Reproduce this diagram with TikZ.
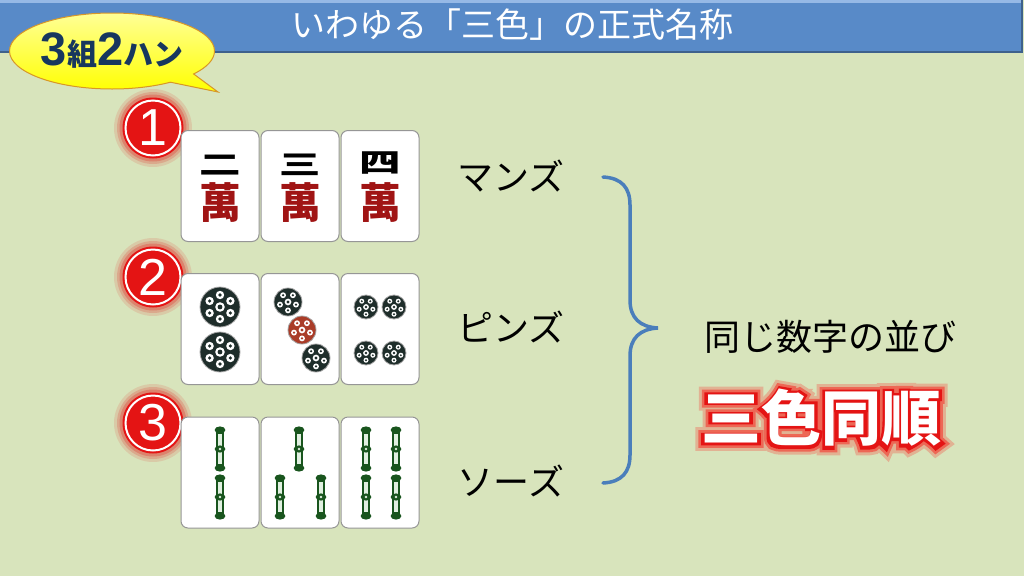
\documentclass[tikz,border=0pt]{standalone}
\usepackage{fontspec}
\usetikzlibrary{shapes.callouts,shapes.geometric,calc}
\newfontfamily\jp{Noto Sans CJK JP}
\newfontfamily\lsf{Liberation Sans}
\newfontfamily\sgA[FakeBold=32]{Noto Sans CJK JP}
\newfontfamily\sgB[FakeBold=22]{Noto Sans CJK JP}
\newfontfamily\sgC[FakeBold=13]{Noto Sans CJK JP}
\definecolor{bg}{RGB}{216,228,188}
\definecolor{bar}{RGB}{88,138,200}
\definecolor{barlt}{RGB}{150,185,230}
\definecolor{navy}{RGB}{23,55,94}
\definecolor{bracec}{RGB}{74,126,187}
\definecolor{manred}{RGB}{160,20,20}
\definecolor{pindark}{RGB}{30,45,42}
\definecolor{pinred}{RGB}{170,60,40}
\definecolor{sou}{RGB}{25,85,30}
\definecolor{soulight}{RGB}{225,240,225}
\definecolor{numred}{RGB}{228,20,20}
\definecolor{calloutline}{RGB}{215,150,40}
\definecolor{tileedge}{RGB}{150,150,150}
\newcommand\pinc[5]{%
  \begin{scope}[shift={(#1,#2)},scale=#3]
    \fill[#4] (0,0) circle (1);
    \draw[gray!70, line width=0.8pt] (0,0) circle (1);
    \foreach \q in {1,...,#5}{
      \fill[white] ({90+360/#5*\q}:0.6) circle (0.21);
      \fill[#4] ({90+360/#5*\q}:0.6) circle (0.09);
    }
    \fill[white] (0,0) circle (0.24);
    \fill[#4] (0,0) circle (0.12);
  \end{scope}}
\newcommand\bam[2]{%
  \begin{scope}[shift={(#1,#2)}]
    \draw[sou, line width=8pt] (0,2) -- (0,36);
    \draw[soulight, line width=3.2pt] (0,4) -- (0,16) (0,22) -- (0,34);
    \foreach \yy in {0,19,38} \fill[sou] (0,\yy) ellipse (5.4 and 3.6);
    \fill[soulight] (0,19) circle (1.4);
  \end{scope}}
\newcommand\sgtext{三色同順}
\begin{document}
\begin{tikzpicture}[x=1pt,y=-1pt,
  tile/.style={rectangle, draw=tileedge, fill=white, rounded corners=7pt, line width=1pt,
    minimum width=78pt, minimum height=111pt, inner sep=0pt},
  mantop/.style={font=\jp\bfseries\fontsize{36}{38}\selectfont, text=black, inner sep=0pt},
  manbot/.style={font=\jp\bfseries\fontsize{42}{44}\selectfont, text=manred, inner sep=0pt},
  numc/.style={circle, fill=numred, minimum size=61pt, inner sep=0pt, text=white,
    font=\lsf\fontsize{52}{52}\selectfont},
  lab/.style={font=\jp\fontsize{36}{40}\selectfont, text=black, inner sep=0pt},
  sgfont/.style={font=\fontsize{60}{64}\selectfont, inner sep=0pt}]
\useasboundingbox (0,0) rectangle (1024,576);
\fill[bg] (0,0) rectangle (1024,576);
% header
\fill[bar] (0,0) rectangle (1022,52);
\fill[barlt] (0,0) rectangle (1022,3);
\draw[bar!70!black, line width=1.5pt] (0,52) -- (1022,52) -- (1022,0);
\node[font=\jp\fontsize{34}{40}\selectfont, text=white, inner sep=0pt] (title) at (512,25) {いわゆる「三色」の正式名称};
% callout
\node[ellipse callout, callout absolute pointer={(218,92)}, callout pointer arc=18,
  draw=calloutline, line width=1pt, top color={rgb,255:red,255;green,255;blue,150}, bottom color=yellow,
  minimum width=205pt, minimum height=76pt, inner sep=0pt] (bubble) at (112,51)
  {\color{navy}\lsf\bfseries\fontsize{47}{50}\selectfont 3\jp\fontsize{30}{32}\selectfont 組\lsf\fontsize{47}{50}\selectfont 2\jp\fontsize{30}{32}\selectfont ハン};
% circled numbers
\coordinate (c1) at (153,128);
\coordinate (c2) at (153,277);
\coordinate (c3) at (153,423);
\foreach \cc in {c1,c2,c3}{
  \fill[numred, opacity=0.12] (\cc) circle (39);
  \fill[numred, opacity=0.18] (\cc) circle (36);
  \fill[numred, opacity=0.25] (\cc) circle (33.5);
}
\node[numc] (n1) at (c1) {1};
\node[numc] (n2) at (c2) {2};
\node[numc] (n3) at (c3) {3};
\foreach \cc in {n1,n2,n3} \draw[white, line width=2pt] (\cc.center) circle (27.5);
% tiles
\node[tile] (m2) at (220,186) {};
\node[tile] (m3) at (300,186) {};
\node[tile] (m4) at (380,186) {};
\node[tile] (p2) at (220,329) {};
\node[tile] (p3) at (300,329) {};
\node[tile] (p4) at (380,329) {};
\node[tile] (s2) at (220,472.5) {};
\node[tile] (s3) at (300,472.5) {};
\node[tile] (s4) at (380,472.5) {};
% manzu
\node[mantop] (m2a) at (220,165) {\scalebox{1.15}[0.75]{二}};
\node[mantop] (m3a) at (300,165) {\scalebox{1.15}[0.75]{三}};
\node[mantop] (m4a) at (380,163) {\scalebox{1.15}[0.75]{四}};
\node[manbot] (m2b) at (220,203) {萬};
\node[manbot] (m3b) at (300,203) {萬};
\node[manbot] (m4b) at (380,203) {萬};
% pinzu
\pinc{220}{307}{20}{pindark}{6}
\pinc{220}{352}{20}{pindark}{6}
\pinc{288}{302}{14}{pindark}{5}
\pinc{302}{330}{14}{pinred}{5}
\pinc{316}{358}{14}{pindark}{5}
\pinc{366}{307}{12}{pindark}{5}
\pinc{394}{307}{12}{pindark}{5}
\pinc{366}{353}{12}{pindark}{5}
\pinc{394}{353}{12}{pindark}{5}
% souzu
\bam{220}{430}
\bam{220}{478}
\bam{299}{430}
\bam{280}{478}
\bam{321}{478}
\bam{366}{430}
\bam{396}{430}
\bam{366}{478}
\bam{396}{478}
% labels
\node[lab] (lbm) at (511,176) {マンズ};
\node[lab] (lbp) at (511,327) {ピンズ};
\node[lab] (lbs) at (511,481) {ソーズ};
% brace
\coordinate (bt) at (603,177);
\coordinate (bp) at (658,328);
\coordinate (bb) at (603,483);
\draw[bracec, line width=3.5pt, line cap=round]
  (bt) .. controls (622,178) and (630,188) .. (630,205) -- (630,300)
  .. controls (630,318) and (640,327) .. (bp)
  .. controls (640,329) and (630,338) .. (630,356) -- (630,455)
  .. controls (630,472) and (622,482) .. (bb);
% right text
\node[lab] (same) at (830,337) {同じ数字の並び};
\node[sgfont] (sg) at (821,418)
  {\rlap{\sgA\color{red!22!bg}\sgtext}\rlap{\sgB\color{red!55!bg}\sgtext}\rlap{\sgC\color{numred}\sgtext}{\jp\bfseries\color{white}\sgtext}};
\end{tikzpicture}
\end{document}
